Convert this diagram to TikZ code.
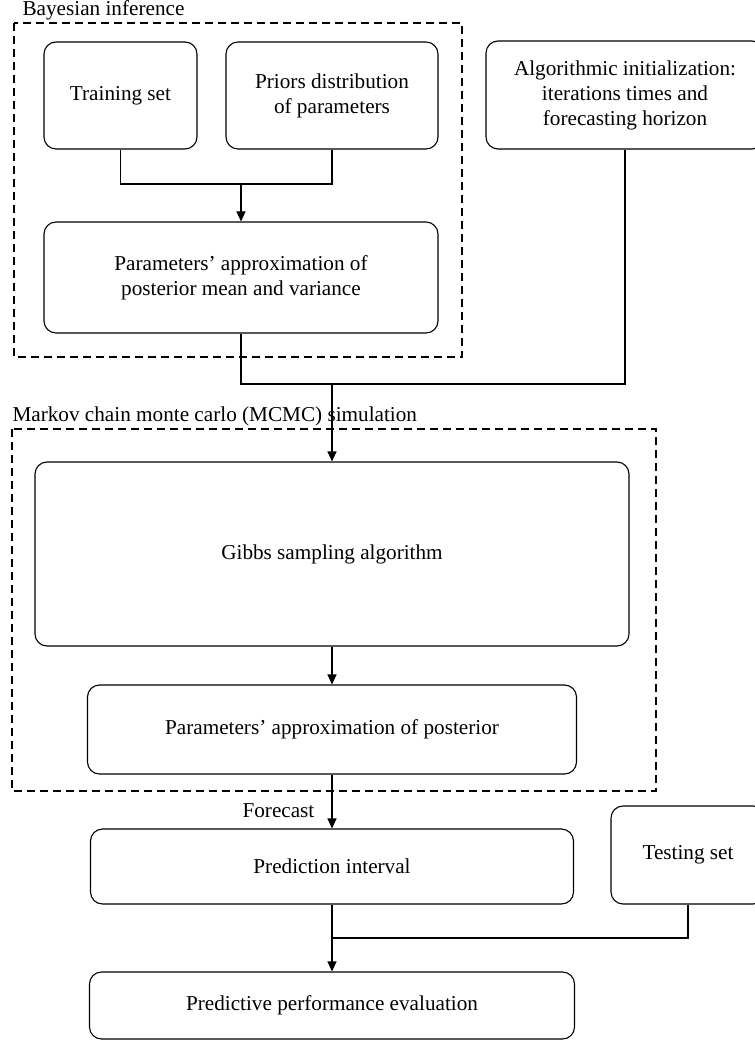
\documentclass[tikz,border=0pt]{standalone}
\usepackage{fontspec}
\setmainfont{Liberation Serif}
\usetikzlibrary{arrows.meta}

\tikzset{
  box/.style={draw, rounded corners=6pt, align=center, inner sep=2pt},
  group/.style={draw, dash pattern=on 4pt off 2.5pt},
  arr/.style={-{Triangle[length=5pt,width=4.5pt]}},
  title/.style={anchor=base west, inner sep=0pt}
}

\begin{document}
\begin{tikzpicture}[x=0.5pt, y=-0.5pt, line width=0.55pt,
    font=\fontsize{10.6}{12.5}\selectfont]
  \useasboundingbox (0,0) rectangle (754,1042);

  % 1. Dashed groups and their titles
  \draw[group] (14,23) rectangle (462,357);
  \node[title] (bayesT) at (22,15.5) {Bayesian inference};
  \draw[group] (12,429) rectangle (656,791);
  \node[title] (mcmcT) at (12,422) {Markov chain monte carlo (MCMC) simulation};

  % 2. Boxes
  \node[box, minimum width=76.5pt, minimum height=53.5pt] (train) at (120.5,95.5) {Training set};
  \node[box, minimum width=106pt, minimum height=53.5pt] (priors) at (332,95.5) {Priors distribution\\of parameters};
  \node[box, minimum width=139pt, minimum height=54pt] (algo) at (625,95) {Algorithmic initialization:\\iterations times and\\forecasting horizon};
  \node[box, minimum width=197pt, minimum height=55.5pt] (postA) at (241,277.5) {Parameters' approximation of\\posterior mean and variance};
  \node[box, minimum width=297pt, minimum height=92pt] (gibbs) at (332,554) {Gibbs sampling algorithm};
  \node[box, minimum width=244.5pt, minimum height=44.5pt] (postB) at (332,729.5) {Parameters' approximation of posterior};
  \node[box, minimum width=241.5pt, minimum height=37.5pt] (pred) at (332,866.5) {Prediction interval};
  \node[box, minimum width=77pt, minimum height=49pt] (test) at (688,855) {Testing set};
  \node[box, minimum width=242.5pt, minimum height=33.5pt] (eval) at (332,1005.5) {Predictive performance evaluation};

  % 3. Connectors
  \coordinate (mergeA) at (241,184);
  \coordinate (mergeB) at (332,384);
  \coordinate (mergeC) at (332,938);
  \draw (train.south) |- (mergeA) -| (priors.south);
  \draw[arr] (mergeA) -- (postA.north);
  \draw (postA.south) |- (mergeB) -| (algo.south);
  \draw[arr] (mergeB) -- (gibbs.north);
  \draw[arr] (gibbs.south) -- (postB.north);
  \draw[arr] (postB.south) -- (pred.north);
  \node[title] (fcT) at (242,817) {Forecast};
  \draw (test.south) |- (mergeC);
  \draw[arr] (pred.south) -- (eval.north);
\end{tikzpicture}
\end{document}
